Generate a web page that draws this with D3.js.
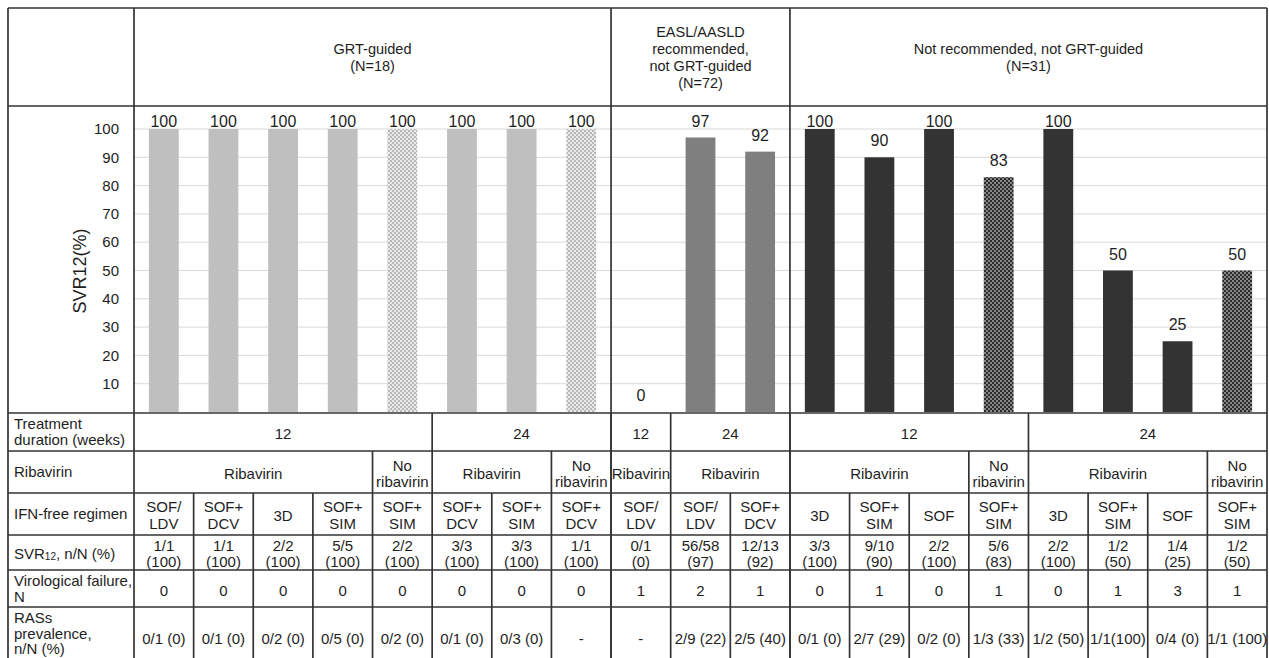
<!DOCTYPE html>
<html><head><meta charset="utf-8">
<script src="https://cdn.jsdelivr.net/npm/d3@7"></script>
<style>
body{margin:0;background:#fff;overflow:hidden}
text{font-family:"Liberation Sans",Arial,Helvetica,sans-serif;fill:#1e1e1e}
</style>
</head><body>
<svg id="c" width="1269" height="658"></svg>
<script>
// ---------------- data ----------------
const groupNames = [
  ["GRT-guided", "(N=18)"],
  ["EASL/AASLD", "recommended,", "not GRT-guided", "(N=72)"],
  ["Not recommended, not GRT-guided", "(N=31)"]
];
const groupOf   = [0,0,0,0,0,0,0,0, 1,1,1, 2,2,2,2,2,2,2,2];
const regimens  = ["SOF/LDV","SOF+DCV","3D","SOF+SIM","SOF+SIM","SOF+DCV","SOF+SIM","SOF+DCV",
                   "SOF/LDV","SOF/LDV","SOF+DCV",
                   "3D","SOF+SIM","SOF","SOF+SIM","3D","SOF+SIM","SOF","SOF+SIM"];
const svr12     = [100,100,100,100,100,100,100,100, 0,97,92, 100,90,100,83,100,50,25,50];
const duration  = [12,12,12,12,12,24,24,24, 12,24,24, 12,12,12,12,24,24,24,24];
const ribavirin = [1,1,1,1,0,1,1,0, 1,1,1, 1,1,1,0,1,1,1,0];
const svrN      = ["1/1","1/1","2/2","5/5","2/2","3/3","3/3","1/1","0/1","56/58","12/13",
                   "3/3","9/10","2/2","5/6","2/2","1/2","1/4","1/2"];
const virFail   = [0,0,0,0,0,0,0,0, 1,2,1, 0,1,0,1,0,1,3,1];
const rasPrev   = ["0/1 (0)","0/1 (0)","0/2 (0)","0/5 (0)","0/2 (0)","0/1 (0)","0/3 (0)","-",
                   "-","2/9 (22)","2/5 (40)",
                   "0/1 (0)","2/7 (29)","0/2 (0)","1/3 (33)","1/2 (50)","1/1(100)","0/4 (0)","1/1 (100)"];
const yTicks    = [10,20,30,40,50,60,70,80,90,100];
const rowLabels = [["Treatment","duration (weeks)"],["Ribavirin"],["IFN-free regimen"],["SVR12"],
                   ["Virological failure,","N"],["RASs","prevalence,","n/N (%)"]];

// ---------------- layout ----------------
const svg = d3.select("#c");
const L = 8, R = 1267, T = 8, LX = 134;
const rowY = [8, 106, 413, 451, 493, 535, 570, 607, 668]; // header, chart, 6 table rows
const n = svr12.length;
const colors = ["#bfbfbf", "#7f7f7f", "#333333"];
const lineCol = "#333333";

const xCol = d3.scaleBand().domain(d3.range(n)).range([LX, R]).padding(0);
const xBar = d3.scaleBand().domain(d3.range(n)).range([LX, R]).paddingInner(0.5).paddingOuter(0.25);
const y = d3.scaleLinear().domain([0, 100]).range([412, 129]);

svg.append("rect").attr("width", 1269).attr("height", 658).attr("fill", "#fff");

// patterns
const defs = svg.append("defs");
function pat(id, bg, dot, r) {
  const p = defs.append("pattern").attr("id", id).attr("patternUnits", "userSpaceOnUse")
    .attr("width", 4).attr("height", 4);
  p.append("rect").attr("width", 4).attr("height", 4).attr("fill", bg);
  [[1, 1], [3, 3]].forEach(([cx, cy]) =>
    p.append("circle").attr("cx", cx).attr("cy", cy).attr("r", r).attr("fill", dot));
}
pat("p0", "#b8b8b8", "#ffffff", 0.95);
pat("p1", "#7f7f7f", "#ffffff", 0.8);
pat("p2", "#2a2a2a", "#ffffff", 0.8);

// gridlines
svg.append("g").selectAll("line").data(yTicks).join("line")
  .attr("x1", LX).attr("x2", R).attr("y1", d => y(d)).attr("y2", d => y(d))
  .attr("stroke", "#d9d9d9").attr("stroke-width", 1);

// y axis tick labels
svg.append("g").selectAll("text").data(yTicks).join("text")
  .attr("x", 119).attr("y", d => y(d)).attr("dy", "0.35em")
  .attr("text-anchor", "end").attr("font-size", 15).text(d => d);

// y axis title
svg.append("text").attr("transform", "translate(80,271) rotate(-90)")
  .attr("text-anchor", "middle").attr("dy", "0.35em").attr("font-size", 18).text("SVR12(%)");

// bars
svg.append("g").selectAll("rect").data(d3.range(n)).join("rect")
  .attr("x", i => xBar(i)).attr("width", xBar.bandwidth())
  .attr("y", i => y(svr12[i])).attr("height", i => y(0) - y(svr12[i]))
  .attr("fill", i => ribavirin[i] ? colors[groupOf[i]] : `url(#p${groupOf[i]})`);

// bar value labels
svg.append("g").selectAll("text").data(d3.range(n)).join("text")
  .attr("x", i => xBar(i) + xBar.bandwidth() / 2)
  .attr("y", i => Math.max(y(svr12[i]) - 11, y(100) - 2))
  .attr("text-anchor", "middle").attr("font-size", 16).text(i => svr12[i]);

// ---------------- table lines ----------------
const lines = svg.append("g").attr("stroke", lineCol).attr("stroke-width", 1.7).attr("fill", "none");
function hline(yy, x1 = L, x2 = R) { lines.append("line").attr("x1", x1).attr("x2", x2).attr("y1", yy).attr("y2", yy); }
function vline(xx, y1, y2) { lines.append("line").attr("x1", xx).attr("x2", xx).attr("y1", y1).attr("y2", y2); }

rowY.slice(0, -1).forEach(yy => hline(yy));
vline(L, T, 668); vline(R, T, 668); vline(LX, T, 668);

function runs(keyFn) {
  const out = []; let s = 0;
  for (let i = 1; i <= n; i++) {
    if (i === n || keyFn(i) !== keyFn(s)) { out.push({ start: s, end: i }); s = i; }
  }
  return out;
}
// group boundaries
const groupRuns = runs(i => groupOf[i]);
groupRuns.forEach(r => { if (r.end < n) vline(xCol(r.end), T, 668); });

const durRuns = runs(i => groupOf[i] + "_" + duration[i]);
const ribRuns = runs(i => groupOf[i] + "_" + duration[i] + "_" + ribavirin[i]);
durRuns.forEach(r => { if (r.end < n) vline(xCol(r.end), rowY[2], rowY[3]); });
ribRuns.forEach(r => { if (r.end < n) vline(xCol(r.end), rowY[3], rowY[4]); });
for (let i = 1; i < n; i++) vline(xCol(i), rowY[4], rowY[8]);

// ---------------- texts ----------------
const tg = svg.append("g");
function mtext(x, cy, arr, size, lh, anchor, extra) {
  const k = arr.length;
  arr.forEach((s, j) => tg.append("text").attr("x", x)
    .attr("y", cy + (j - (k - 1) / 2) * lh + size * 0.35 + (extra || 0))
    .attr("text-anchor", anchor).attr("font-size", size).text(s));
}

// group headers
groupRuns.forEach(r => {
  const cx = (xCol(r.start) + xCol(r.end - 1) + xCol.bandwidth()) / 2;
  mtext(cx, (rowY[0] + rowY[1]) / 2, groupNames[groupOf[r.start]], 14.5, 17, "middle");
});

// row labels
rowLabels.forEach((lab, k) => {
  const cy = (rowY[k + 2] + rowY[k + 3]) / 2;
  if (k === 3) {
    const t = tg.append("text").attr("x", 14).attr("y", cy + 5.25 + 1).attr("font-size", 15);
    t.append("tspan").text("SVR");
    t.append("tspan").attr("font-size", 10).attr("dy", 1).text("12");
    t.append("tspan").attr("dy", -1).text(", n/N (%)");
  } else if (k === 5) {
    mtext(14, cy - 4, lab, 15, 15.5, "start");
  } else {
    mtext(14, cy, lab, 15, 16, "start");
  }
});

function spanCenter(r) { return (xCol(r.start) + xCol(r.end - 1) + xCol.bandwidth()) / 2; }
function rowC(k) { return (rowY[k + 2] + rowY[k + 3]) / 2; }

durRuns.forEach(r => mtext(spanCenter(r), rowC(0), [String(duration[r.start])], 15, 16, "middle", 1.5));
ribRuns.forEach(r => mtext(spanCenter(r), rowC(1),
  ribavirin[r.start] ? ["Ribavirin"] : ["No", "ribavirin"], 15, 16.5, "middle", 1.5));
d3.range(n).forEach(i => {
  const cx = xCol(i) + xCol.bandwidth() / 2;
  const reg = regimens[i];
  const m = reg.match(/^(SOF[\/+])(.+)$/);
  mtext(cx, rowC(2), m ? [m[1], m[2]] : [reg], 15, 17, "middle", 1.5);
  mtext(cx, rowC(3), [svrN[i], "(" + svr12[i] + ")"], 15, 15.5, "middle", 1);
  mtext(cx, rowC(4), [String(virFail[i])], 15, 16, "middle", 2);
  mtext(cx, rowC(5), [rasPrev[i]], 15, 16, "middle", 1);
});
</script>
</body></html>
